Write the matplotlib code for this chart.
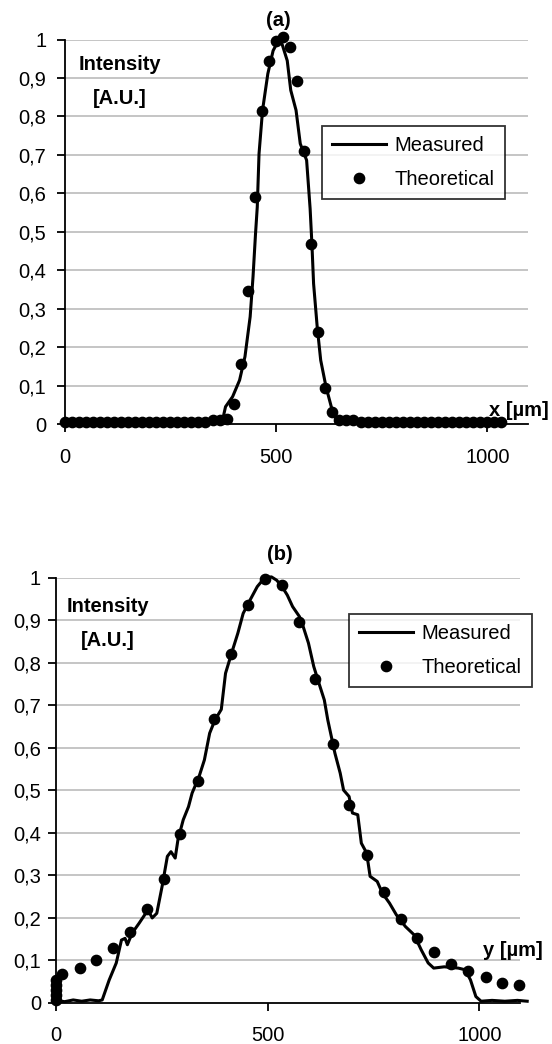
import matplotlib
matplotlib.use("Agg")
import matplotlib.pyplot as plt
from matplotlib.ticker import FixedLocator, FuncFormatter

plt.rcParams['font.family'] = ['Liberation Sans', 'DejaVu Sans']

# ---------------- data: panel (a) ----------------
a_theo_x = [0, 16.7, 33.3, 50, 66.7, 83.3, 100, 116.7, 133.3, 150, 166.7, 183.3, 200,
            216.7, 233.3, 250, 266.7, 283.3, 300, 316.7, 333.3, 350, 366.7, 383.3, 400,
            416.7, 433.3, 450, 466.7, 483.3, 500, 516.7, 533.3, 550, 566.7, 583.3, 600,
            616.7, 633.3, 650, 666.7, 683.3, 700, 716.7, 733.3, 750, 766.7, 783.3, 800,
            816.7, 833.3, 850, 866.7, 883.3, 900, 916.7, 933.3, 950, 966.7, 983.3, 1000,
            1016.7, 1033.3]
a_theo_y = [0.006] * 21 + [0.010, 0.011, 0.013, 0.051, 0.155, 0.346, 0.590, 0.813, 0.943,
                           0.995, 1.006, 0.980, 0.892, 0.709, 0.467, 0.238, 0.093, 0.030,
                           0.011, 0.010, 0.010] + [0.006] * 21

a_meas_x = [0, 100, 200, 300, 372.5, 380.8, 397.5, 414, 426.7, 439, 445.8, 451.7, 455.8,
            460, 468.3, 480.8, 493.3, 505.8, 514.2, 526.7, 535, 547.5, 557.5, 572.5,
            580.8, 585, 589, 597.5, 605.8, 618.3, 630.8, 643, 655, 800, 1030]
a_meas_y = [0.005, 0.004, 0.005, 0.004, 0.004, 0.045, 0.071, 0.114, 0.175, 0.279, 0.383,
            0.495, 0.564, 0.703, 0.816, 0.911, 0.971, 0.997, 0.989, 0.945, 0.868, 0.816,
            0.729, 0.686, 0.560, 0.469, 0.365, 0.253, 0.166, 0.097, 0.045, 0.010, 0.005,
            0.004, 0.004]

# ---------------- data: panel (b) ----------------
b_theo_x = [0, 0, 0, 0, 0, 12.5, 56.7, 94, 133, 175, 215, 254, 293, 336, 373.5, 412.5,
            454, 493.5, 533.5, 573.5, 612.5, 654, 692, 735, 773.5, 815, 852.5, 892, 933.5,
            973.5, 1015, 1052.5, 1094]
b_theo_y = [0.005, 0.017, 0.029, 0.041, 0.053, 0.066, 0.081, 0.099, 0.128, 0.165, 0.220,
            0.291, 0.396, 0.522, 0.667, 0.820, 0.936, 0.997, 0.983, 0.895, 0.762, 0.608,
            0.465, 0.347, 0.259, 0.197, 0.151, 0.118, 0.090, 0.075, 0.061, 0.047, 0.042]

b_meas_x = [2, 20, 40, 60, 80, 100, 108.5, 125, 141.7, 154, 162.5, 168, 179, 196, 216.7,
            226.7, 237.5, 250, 262.5, 271, 281, 287.5, 300, 312.5, 321, 337.5, 350, 362.5,
            375, 390, 400, 416.7, 429, 441.7, 458.3, 475, 491.7, 508.3, 521, 533.5, 546,
            558.5, 575, 583.5, 596, 608.5, 621, 633.5, 641.7, 658.5, 671, 679, 692, 700,
            712.5, 721, 733.5, 741.7, 758.5, 771, 787.5, 804, 825, 846, 862.5, 879, 892,
            917, 950, 966.7, 979, 991.7, 1004, 1030, 1060, 1090, 1113]
b_meas_y = [0.004, 0.002, 0.006, 0.003, 0.006, 0.004, 0.006, 0.053, 0.093, 0.147, 0.151,
            0.136, 0.163, 0.187, 0.218, 0.199, 0.210, 0.273, 0.344, 0.355, 0.340, 0.383,
            0.430, 0.461, 0.493, 0.532, 0.571, 0.634, 0.665, 0.690, 0.775, 0.830, 0.869,
            0.916, 0.948, 0.979, 0.999, 1.002, 0.994, 0.979, 0.959, 0.932, 0.908, 0.885,
            0.846, 0.791, 0.751, 0.712, 0.665, 0.587, 0.540, 0.500, 0.485, 0.446, 0.442,
            0.375, 0.352, 0.297, 0.285, 0.257, 0.234, 0.206, 0.179, 0.159, 0.124, 0.093,
            0.081, 0.084, 0.081, 0.077, 0.053, 0.014, 0.003, 0.005, 0.003, 0.005, 0.003]

y_ticks = [0, 0.1, 0.2, 0.3, 0.4, 0.5, 0.6, 0.7, 0.8, 0.9, 1.0]
x_ticks = [0, 500, 1000]

W, H = 552, 1044
FS = 14.5
fig = plt.figure(figsize=(W / 100, H / 100), dpi=100)


def comma(v, pos):
    if abs(v) < 1e-9:
        return "0"
    if abs(v - 1) < 1e-9:
        return "1"
    return ("%.1f" % v).replace(".", ",")


def make_panel(rect, tx, ty, mx, my, title, title_xy, xlab, xlab_xy, ylab_xy,
               leg_xy, ypad):
    ax = fig.add_axes(rect)
    ax.set_xlim(0, 1096)
    ax.set_ylim(0, 1)
    for s in ['top', 'right']:
        ax.spines[s].set_visible(False)
    for s in ['left', 'bottom']:
        ax.spines[s].set_linewidth(1.3)
        ax.spines[s].set_color('black')
    ax.yaxis.set_major_locator(FixedLocator(y_ticks))
    ax.yaxis.set_major_formatter(FuncFormatter(comma))
    ax.xaxis.set_major_locator(FixedLocator(x_ticks))
    ax.tick_params(axis='y', direction='out', length=6, width=1.3, pad=ypad,
                   labelsize=FS)
    ax.tick_params(axis='x', direction='out', length=6, width=1.3, pad=11,
                   labelsize=FS)
    for yv in y_ticks[1:]:
        ax.axhline(yv, color='#c0c0c0', lw=1.3, zorder=0)
    ax.plot(mx, my, color='black', lw=2.2, label='Measured', zorder=3,
            clip_on=False)
    ax.plot(tx, ty, linestyle='none', marker='o', ms=7.4, color='black',
            label='Theoretical', zorder=4, clip_on=False)
    fig.text(title_xy[0] / W, 1 - title_xy[1] / H, title, ha='center',
             va='center', fontsize=FS, fontweight='bold')
    fig.text(xlab_xy[0] / W, 1 - xlab_xy[1] / H, xlab, ha='right', va='center',
             fontsize=FS, fontweight='bold')
    fig.text(ylab_xy[0] / W, 1 - ylab_xy[1] / H, "Intensity", ha='center',
             va='center', fontsize=FS, fontweight='bold')
    fig.text(ylab_xy[0] / W, 1 - (ylab_xy[1] + 33) / H, "[A.U.]", ha='center',
             va='center', fontsize=FS, fontweight='bold')
    leg = ax.legend(loc='upper left', bbox_to_anchor=(leg_xy[0] / W, 1 - leg_xy[1] / H),
                    bbox_transform=fig.transFigure, borderaxespad=0, fancybox=False,
                    frameon=True, fontsize=FS, handlelength=2.7, handletextpad=0.4,
                    labelspacing=0.75, borderpad=0.5, numpoints=1)
    leg.get_frame().set_edgecolor('black')
    leg.get_frame().set_linewidth(1.3)
    return ax


# panel (a)
make_panel([64.5 / W, 1 - 424 / H, (528 - 64.5) / W, (424 - 39.5) / H],
           a_theo_x, a_theo_y, a_meas_x, a_meas_y,
           "(a)", (278, 20), "x [µm]", (549, 410), (120, 65), (322, 125.7), 7)

# panel (b)
make_panel([56.3 / W, 1 - 1002.5 / H, (520 - 56.3) / W, (1002.5 - 577.7) / H],
           b_theo_x, b_theo_y, b_meas_x, b_meas_y,
           "(b)", (280, 555), "y [µm]", (543, 950), (108, 607), (349, 614), 5)

fig.savefig("out.png", dpi=100)
